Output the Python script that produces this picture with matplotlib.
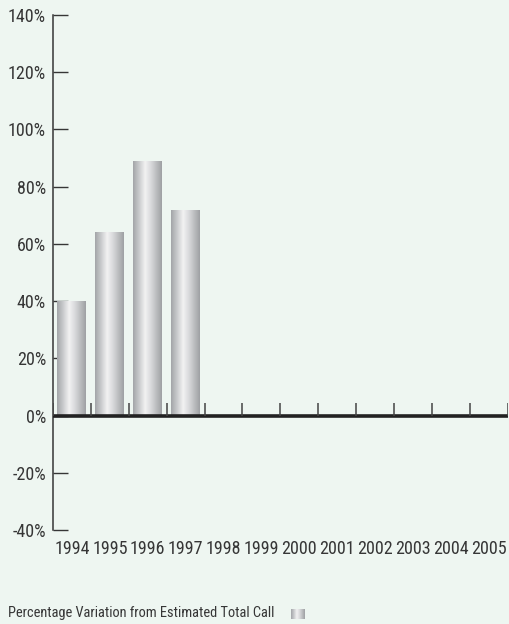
import numpy as np
import matplotlib
matplotlib.use("Agg")
import matplotlib.pyplot as plt
from matplotlib.colors import LinearSegmentedColormap

years = ["1994", "1995", "1996", "1997", "1998", "1999",
         "2000", "2001", "2002", "2003", "2004", "2005"]
variation = [40, 64, 89, 72]          # percent, only first four years reported
y_ticks = [-40, -20, 0, 20, 40, 60, 80, 100, 120, 140]
legend_label = "Percentage Variation from Estimated Total Call"

BG = "#eef6f1"
TXT = "#363636"
plt.rcParams["font.family"] = ["Roboto Condensed", "Roboto", "DejaVu Sans"]

# metallic cylinder shading across each bar
shade = LinearSegmentedColormap.from_list(
    "metal",
    [(0.0, "#a4a6a9"), (0.18, "#c4c6c8"), (0.42, "#f2f2f2"),
     (0.62, "#d9dadc"), (0.85, "#b6b8ba"), (1.0, "#9fa1a4")])
grad = np.linspace(0, 1, 64)[None, :]

fig = plt.figure(figsize=(5.09, 6.24), dpi=100, facecolor=BG)
ax = fig.add_axes([53 / 509, 94 / 624, (507.7 - 53) / 509, 515 / 624])
ax.set_facecolor(BG)

n = len(years)
ax.set_xlim(-0.5, n - 0.5)
ax.set_ylim(-40, 140)

bar_w = 0.765
bars = ax.bar(range(len(variation)), variation, width=bar_w, color="none",
              edgecolor="none", zorder=2)
for b in bars:
    x0, y0 = b.get_x(), b.get_y()
    ax.imshow(grad, cmap=shade, aspect="auto", zorder=2,
              extent=[x0, x0 + b.get_width(), y0, y0 + b.get_height()])

# zero baseline and category separator ticks
ax.axhline(0, color="#222222", lw=2.6, zorder=3)
ax.vlines(np.arange(n + 1) - 0.5, 0, 4.3, color="#444444", lw=1.1, zorder=3)

for s in ["top", "right", "bottom"]:
    ax.spines[s].set_visible(False)
ax.spines["left"].set_color(TXT)
ax.spines["left"].set_linewidth(1.1)

ax.set_yticks(y_ticks)
ax.set_yticklabels([f"{v}%" for v in y_ticks])
ax.tick_params(axis="y", direction="in", length=11, width=1.0,
               color=TXT, labelsize=13, labelcolor=TXT, pad=5)
ax.set_xticks(range(n))
ax.set_xticklabels(years)
ax.tick_params(axis="x", length=0, labelsize=13, labelcolor=TXT, pad=7)

# legend line below the chart
fig.text(8 / 509, 1 - 613 / 624, legend_label, fontsize=10.4, color=TXT,
         va="center", ha="left")
lax = fig.add_axes([291 / 509, 1 - 619 / 624, 14 / 509, 10 / 624])
lax.imshow(grad, cmap=shade, aspect="auto")
lax.axis("off")

fig.savefig("out.png", dpi=100, facecolor=BG)
